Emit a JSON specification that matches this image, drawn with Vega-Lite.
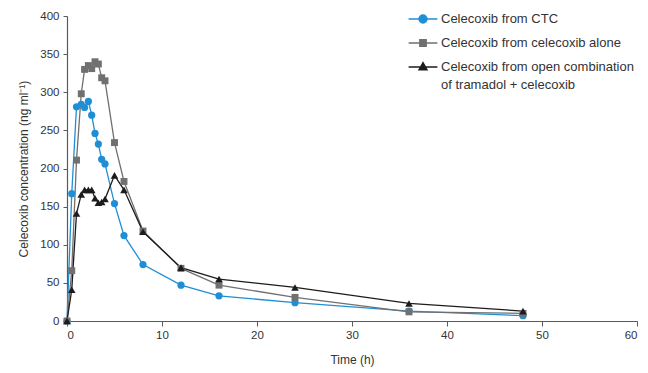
{
  "$schema": "https://vega.github.io/schema/vega-lite/v6.json",
  "width": 570,
  "height": 305,
  "autosize": "none",
  "padding": {"left": 67, "top": 16, "right": 11, "bottom": 52},
  "config": {
    "view": {"stroke": null},
    "font": "Liberation Sans",
    "axis": {
      "domainColor": "#5a5a5a",
      "tickColor": "#5a5a5a",
      "domainWidth": 1.2,
      "tickWidth": 1,
      "grid": false,
      "labelColor": "#333333",
      "titleColor": "#333333",
      "labelFontSize": 11.5,
      "titleFontSize": 12,
      "titleFontWeight": "normal",
      "labelFont": "Liberation Sans",
      "titleFont": "Liberation Sans"
    }
  },
  "data": {
    "values": [
      {"series": "Celecoxib from CTC", "t": 0, "c": 0},
      {"series": "Celecoxib from CTC", "t": 0.5, "c": 167},
      {"series": "Celecoxib from CTC", "t": 1, "c": 281},
      {"series": "Celecoxib from CTC", "t": 1.5, "c": 284},
      {"series": "Celecoxib from CTC", "t": 1.85, "c": 280},
      {"series": "Celecoxib from CTC", "t": 2.25, "c": 288},
      {"series": "Celecoxib from CTC", "t": 2.6, "c": 270},
      {"series": "Celecoxib from CTC", "t": 2.95, "c": 246},
      {"series": "Celecoxib from CTC", "t": 3.3, "c": 232},
      {"series": "Celecoxib from CTC", "t": 3.65, "c": 212},
      {"series": "Celecoxib from CTC", "t": 4, "c": 206},
      {"series": "Celecoxib from CTC", "t": 5, "c": 154},
      {"series": "Celecoxib from CTC", "t": 6, "c": 112},
      {"series": "Celecoxib from CTC", "t": 8, "c": 74},
      {"series": "Celecoxib from CTC", "t": 12, "c": 47},
      {"series": "Celecoxib from CTC", "t": 16, "c": 33},
      {"series": "Celecoxib from CTC", "t": 24, "c": 24},
      {"series": "Celecoxib from CTC", "t": 36, "c": 13},
      {"series": "Celecoxib from CTC", "t": 48, "c": 7},
      {"series": "Celecoxib from celecoxib alone", "t": 0, "c": 0},
      {"series": "Celecoxib from celecoxib alone", "t": 0.5, "c": 66},
      {"series": "Celecoxib from celecoxib alone", "t": 1, "c": 211},
      {"series": "Celecoxib from celecoxib alone", "t": 1.5, "c": 298},
      {"series": "Celecoxib from celecoxib alone", "t": 1.85, "c": 330},
      {"series": "Celecoxib from celecoxib alone", "t": 2.25, "c": 335},
      {"series": "Celecoxib from celecoxib alone", "t": 2.6, "c": 331},
      {"series": "Celecoxib from celecoxib alone", "t": 2.95, "c": 340},
      {"series": "Celecoxib from celecoxib alone", "t": 3.3, "c": 337},
      {"series": "Celecoxib from celecoxib alone", "t": 3.65, "c": 319},
      {"series": "Celecoxib from celecoxib alone", "t": 4, "c": 315},
      {"series": "Celecoxib from celecoxib alone", "t": 5, "c": 234},
      {"series": "Celecoxib from celecoxib alone", "t": 6, "c": 183},
      {"series": "Celecoxib from celecoxib alone", "t": 8, "c": 118},
      {"series": "Celecoxib from celecoxib alone", "t": 12, "c": 69},
      {"series": "Celecoxib from celecoxib alone", "t": 16, "c": 47},
      {"series": "Celecoxib from celecoxib alone", "t": 24, "c": 31},
      {"series": "Celecoxib from celecoxib alone", "t": 36, "c": 12},
      {"series": "Celecoxib from celecoxib alone", "t": 48, "c": 10},
      {"series": "Celecoxib from open combination of tramadol + celecoxib", "t": 0, "c": 0},
      {"series": "Celecoxib from open combination of tramadol + celecoxib", "t": 0.5, "c": 41},
      {"series": "Celecoxib from open combination of tramadol + celecoxib", "t": 1, "c": 141},
      {"series": "Celecoxib from open combination of tramadol + celecoxib", "t": 1.5, "c": 166},
      {"series": "Celecoxib from open combination of tramadol + celecoxib", "t": 1.85, "c": 172},
      {"series": "Celecoxib from open combination of tramadol + celecoxib", "t": 2.25, "c": 172},
      {"series": "Celecoxib from open combination of tramadol + celecoxib", "t": 2.6, "c": 172},
      {"series": "Celecoxib from open combination of tramadol + celecoxib", "t": 2.95, "c": 161},
      {"series": "Celecoxib from open combination of tramadol + celecoxib", "t": 3.3, "c": 155},
      {"series": "Celecoxib from open combination of tramadol + celecoxib", "t": 3.65, "c": 156},
      {"series": "Celecoxib from open combination of tramadol + celecoxib", "t": 4, "c": 160},
      {"series": "Celecoxib from open combination of tramadol + celecoxib", "t": 5, "c": 191},
      {"series": "Celecoxib from open combination of tramadol + celecoxib", "t": 6, "c": 172},
      {"series": "Celecoxib from open combination of tramadol + celecoxib", "t": 8, "c": 117},
      {"series": "Celecoxib from open combination of tramadol + celecoxib", "t": 12, "c": 70},
      {"series": "Celecoxib from open combination of tramadol + celecoxib", "t": 16, "c": 55},
      {"series": "Celecoxib from open combination of tramadol + celecoxib", "t": 24, "c": 44},
      {"series": "Celecoxib from open combination of tramadol + celecoxib", "t": 36, "c": 23},
      {"series": "Celecoxib from open combination of tramadol + celecoxib", "t": 48, "c": 13}
    ]
  },
  "encoding": {
    "x": {
      "field": "t",
      "type": "quantitative",
      "scale": {"domain": [0, 60], "nice": false},
      "axis": {"values": [0, 10, 20, 30, 40, 50, 60], "title": "Time (h)", "tickSize": 5, "labelPadding": 3, "titlePadding": 14}
    },
    "y": {
      "field": "c",
      "type": "quantitative",
      "scale": {"domain": [0, 400], "nice": false},
      "axis": {"values": [0, 50, 100, 150, 200, 250, 300, 350, 400], "title": "Celecoxib concentration (ng ml⁻¹)", "tickSize": 4, "labelPadding": 4, "titlePadding": 9}
    },
    "color": {
      "field": "series",
      "type": "nominal",
      "scale": {
        "domain": ["Celecoxib from CTC", "Celecoxib from celecoxib alone", "Celecoxib from open combination of tramadol + celecoxib"],
        "range": ["#1f8fd5", "#707070", "#1c1c1c"]
      },
      "legend": {
        "title": null,
        "orient": "none",
        "legendX": 347,
        "legendY": -6,
        "padding": 0,
        "symbolType": "M-1.8,0H1.8",
        "symbolSize": 256,
        "symbolStrokeWidth": 1.4,
        "labelOffset": 9,
        "rowPadding": 8,
        "labelFontSize": 13,
        "labelColor": "#333333",
        "labelFont": "Liberation Sans",
        "labelLimit": 300,
        "labelExpr": "datum.label == 'Celecoxib from open combination of tramadol + celecoxib' ? ['Celecoxib from open combination', 'of tramadol + celecoxib'] : datum.label",
        "encode": {
          "symbols": {
            "update": {
              "shape": {"signal": "datum.value === 'Celecoxib from CTC' ? 'M-1.8,0H1.8M-0.5,0A0.5,0.5,0,1,0,0.5,0A0.5,0.5,0,1,0,-0.5,0Z' : datum.value === 'Celecoxib from celecoxib alone' ? 'M-1.8,0H1.8M-0.4,-0.4H0.4V0.4H-0.4Z' : 'M-1.8,0H1.8M0,-0.55L0.5,0.35H-0.5Z'"},
              "fill": {"signal": "scale('color', datum.value)"},
              "stroke": {"signal": "scale('color', datum.value)"},
              "opacity": {"value": 1}
            }
          },
          "labels": {
            "update": {
              "lineHeight": {"value": 18}
            }
          }
        }
      }
    }
  },
  "layer": [
    {
      "mark": {"type": "line", "strokeWidth": 1.3}
    },
    {
      "transform": [{"filter": "datum.series === 'Celecoxib from CTC'"}],
      "mark": {"type": "point", "shape": "circle", "filled": true, "opacity": 1, "size": 52}
    },
    {
      "transform": [{"filter": "datum.series === 'Celecoxib from celecoxib alone'"}],
      "mark": {"type": "point", "shape": "square", "filled": true, "opacity": 1, "size": 48}
    },
    {
      "transform": [{"filter": "datum.series === 'Celecoxib from open combination of tramadol + celecoxib'"}],
      "mark": {"type": "point", "shape": "triangle-up", "filled": true, "opacity": 1, "size": 58}
    }
  ]
}
